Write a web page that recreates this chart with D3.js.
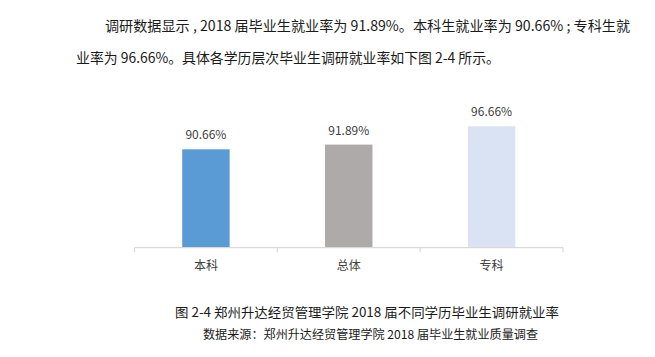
<!DOCTYPE html>
<html><head><meta charset="utf-8">
<script src="https://cdn.jsdelivr.net/npm/d3@7"></script>
<style>
html,body{margin:0;padding:0;background:#fff;}
text{font-family:"Noto Sans CJK SC","Microsoft YaHei",sans-serif;}
</style></head>
<body>
<svg id="chart" width="655" height="357"></svg>
<script>
const categories = ["本科", "总体", "专科"];
const values = [90.66, 91.89, 96.66];
const valueLabels = ["90.66%", "91.89%", "96.66%"];
const barColors = ["#5B9BD5", "#AEAAAA", "#DAE3F3"];
const paragraph = [
  "调研数据显示 , 2018 届毕业生就业率为 91.89%。本科生就业率为 90.66% ; 专科生就",
  "业率为 96.66%。具体各学历层次毕业生调研就业率如下图 2-4 所示。"
];
const title = "图 2-4 郑州升达经贸管理学院 2018 届不同学历毕业生调研就业率";
const source = "数据来源：郑州升达经贸管理学院 2018 届毕业生就业质量调查";

const svg = d3.select("#chart");
svg.append("rect").attr("width",655).attr("height",357).attr("fill","#fff");

// paragraph
const para = [
  {x:105, y:31, w:525},
  {x:76, y:63, w:424}
];
paragraph.forEach((t,i)=>{
  svg.append("text").attr("x",para[i].x).attr("y",para[i].y)
    .attr("font-size",14).attr("fill","#1a1a1a")
    .attr("textLength",para[i].w).attr("lengthAdjust","spacingAndGlyphs")
    .text(t);
});

const x = d3.scaleBand().domain(categories).range([134.5, 563])
  .paddingInner(0.668).paddingOuter(0.334);
const y = d3.scaleLinear().domain([65, 100]).range([247.7, 113.5]);

const data = categories.map((c,i)=>({c, v:values[i], l:valueLabels[i], col:barColors[i]}));

svg.selectAll("rect.bar").data(data).enter().append("rect")
  .attr("class","bar")
  .attr("x", d=>x(d.c)).attr("width", x.bandwidth())
  .attr("y", d=>y(d.v)).attr("height", d=>y(65)-y(d.v))
  .attr("fill", d=>d.col);

svg.selectAll("text.val").data(data).enter().append("text")
  .attr("class","val")
  .attr("x", d=>x(d.c)+x.bandwidth()/2).attr("y", d=>y(d.v)-10)
  .attr("text-anchor","middle").attr("font-size",12).attr("fill","#404040")
  .text(d=>d.l);

// axis
const axisG = svg.append("g").attr("transform",`translate(0,${y(65)})`);
const [r0, r1] = x.range();
axisG.append("line").attr("x1",r0).attr("x2",r1).attr("y1",0).attr("y2",0)
  .attr("stroke","#d9d9d9").attr("stroke-width",1.2);
const bounds = d3.range(categories.length+1).map(i=>r0 + i*x.step());
axisG.selectAll("line.tk").data(bounds).enter().append("line")
  .attr("class","tk").attr("x1",d=>d).attr("x2",d=>d).attr("y1",0).attr("y2",4.5)
  .attr("stroke","#d9d9d9").attr("stroke-width",1.2);
const ax = d3.axisBottom(x).tickSize(0).tickPadding(14);
const axLabels = svg.append("g").attr("transform",`translate(0,${y(65)})`).call(ax);
axLabels.select(".domain").remove();
axLabels.selectAll("text").attr("font-size",12).attr("fill","#404040")
  .attr("font-family","Noto Sans CJK SC");

svg.append("text").attr("x",367).attr("y",317).attr("text-anchor","middle")
  .attr("font-size",13).attr("fill","#1a1a1a")
  .attr("textLength",384).attr("lengthAdjust","spacingAndGlyphs").text(title);
svg.append("text").attr("x",370.5).attr("y",339).attr("text-anchor","middle")
  .attr("font-size",12).attr("fill","#1a1a1a")
  .attr("textLength",335).attr("lengthAdjust","spacingAndGlyphs").text(source);
</script>
</body></html>
